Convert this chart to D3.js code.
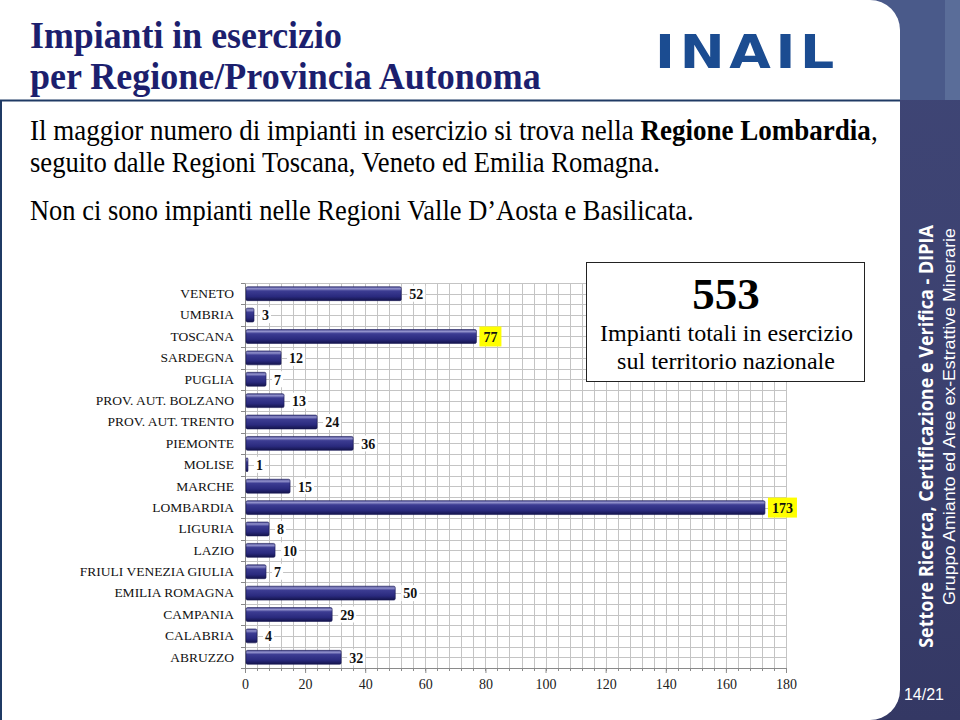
<!DOCTYPE html>
<html><head><meta charset="utf-8">
<script src="https://cdn.jsdelivr.net/npm/d3@7"></script>
<style>html,body{margin:0;padding:0;background:#fff;}svg{display:block;}</style>
</head><body>
<svg id="c" width="960" height="720"></svg>
<script>
const categories = ["VENETO","UMBRIA","TOSCANA","SARDEGNA","PUGLIA","PROV. AUT. BOLZANO","PROV. AUT. TRENTO","PIEMONTE","MOLISE","MARCHE","LOMBARDIA","LIGURIA","LAZIO","FRIULI VENEZIA GIULIA","EMILIA ROMAGNA","CAMPANIA","CALABRIA","ABRUZZO"];
const values = [52,3,77,12,7,13,24,36,1,15,173,8,10,7,50,29,4,32];
const highlighted = ["TOSCANA","LOMBARDIA"];
const xTicks = [0,20,40,60,80,100,120,140,160,180];
const total = 553;

const svg = d3.select("#c");
const defs = svg.append("defs");
const g1 = defs.append("linearGradient").attr("id","barG").attr("x1",0).attr("y1",0).attr("x2",0).attr("y2",1);
[["0%","#4a4a92"],["14%","#9292cc"],["30%","#3c3c92"],["70%","#2a2a7e"],["100%","#14144c"]].forEach(s=>g1.append("stop").attr("offset",s[0]).attr("stop-color",s[1]));
const g2 = defs.append("linearGradient").attr("id","panelG").attr("x1",0).attr("y1",0).attr("x2",0).attr("y2",1);
[["0%","#3f4676"],["50%","#3c4170"],["100%","#343864"]].forEach(s=>g2.append("stop").attr("offset",s[0]).attr("stop-color",s[1]));

// right panel
svg.append("rect").attr("x",0).attr("y",0).attr("width",960).attr("height",720).attr("fill","url(#panelG)");
svg.append("rect").attr("x",860).attr("y",0).attr("width",100).attr("height",100).attr("fill","#4a5a8a");
svg.append("rect").attr("x",945).attr("y",0).attr("width",15).attr("height",100).attr("fill","#5a6d99");
// white content
svg.append("rect").attr("x",-40).attr("y",0).attr("width",940).attr("height",720).attr("rx",30).attr("fill","#fff");
svg.append("line").attr("x1",0).attr("x2",900).attr("y1",100.5).attr("y2",100.5).attr("stroke","#1f3a64").attr("stroke-width",2);
svg.append("line").attr("x1",1).attr("x2",1).attr("y1",100).attr("y2",720).attr("stroke","#1f3a64").attr("stroke-width",2);

function fitText(sel, x, y, target){
  const w = sel.node().getComputedTextLength();
  sel.attr("transform",`translate(${x},${y}) scale(${target/w},1)`);
  return sel;
}
// Title
const tf = "'Liberation Serif','Times New Roman',serif";
fitText(svg.append("text").attr("font-family",tf).attr("font-weight","bold").attr("font-size",37).attr("fill","#1c1f6e").text("Impianti in esercizio"),30,48,312);
fitText(svg.append("text").attr("font-family",tf).attr("font-weight","bold").attr("font-size",37).attr("fill","#1c1f6e").text("per Regione/Provincia Autonoma"),30,89,511);

// Logo
fitText(svg.append("text").attr("font-family","'DejaVu Sans',sans-serif").attr("font-weight","bold").attr("font-size",46).attr("letter-spacing",4).attr("fill","#1b4c91").text("INAIL"),655,68,184);

// Body text
const b1 = svg.append("text").attr("font-family",tf).attr("font-size",29).attr("fill","#000");
b1.append("tspan").text("Il maggior numero di impianti in esercizio si trova nella ");
b1.append("tspan").attr("font-weight","bold").text("Regione Lombardia");
b1.append("tspan").text(",");
fitText(b1,30,140,848);
fitText(svg.append("text").attr("font-family",tf).attr("font-size",29).text("seguito dalle Regioni Toscana, Veneto ed Emilia Romagna."),30,172,630);
fitText(svg.append("text").attr("font-family",tf).attr("font-size",29).text("Non ci sono impianti nelle Regioni Valle D\u2019Aosta e Basilicata."),30,220,664);

// Vertical texts
function vText(txt, cx, cy, size, weight, family, target){
  const t = svg.append("text").attr("font-family",family).attr("font-weight",weight).attr("font-size",size).attr("fill","#fff").attr("text-anchor","middle").text(txt);
  const w = t.node().getComputedTextLength();
  t.attr("transform",`translate(${cx},${cy}) rotate(-90) scale(${target/w},1)`);
}
vText("Settore Ricerca, Certificazione e Verifica - DIPIA",933,436.5,20,"bold","'Open Sans',sans-serif",423);
vText("Gruppo Amianto ed Aree ex-Estrattive Minerarie",955,416.5,16,"normal","'Liberation Sans',Arial,sans-serif",377);
svg.append("text").attr("x",924).attr("y",700).attr("text-anchor","middle").attr("font-family","'Liberation Sans',Arial,sans-serif").attr("font-size",16).attr("fill","#fff").text("14/21");

// Chart
const x = d3.scaleLinear().domain([0,180]).range([245,786]);
const y = d3.scaleBand().domain(categories).range([283,668]).paddingInner(0.35).paddingOuter(0.175);
const step = y.step();
const grid = svg.append("g").attr("stroke","#c4c4c4").attr("stroke-width",1);
d3.range(4,181,4).forEach(v=>grid.append("line").attr("x1",Math.round(x(v))+0.5).attr("x2",Math.round(x(v))+0.5).attr("y1",283).attr("y2",668));
d3.range(0,categories.length*2).forEach(i=>{const yy=Math.round(283+i*step/2)+0.5; grid.append("line").attr("x1",245).attr("x2",786).attr("y1",yy).attr("y2",yy);});

// axes
const xAxis = d3.axisBottom(x).tickValues(xTicks).tickSize(5).tickPadding(6);
const xg = svg.append("g").attr("transform","translate(0,668)").call(xAxis);
xg.select(".domain").attr("stroke","#8a8a8a");
xg.selectAll(".tick line").attr("stroke","#8a8a8a");
xg.selectAll("text").attr("font-family",tf).attr("font-size",14).attr("fill","#222");
const minor = svg.append("g").attr("stroke","#8a8a8a");
d3.range(4,180,4).forEach(v=>minor.append("line").attr("x1",Math.round(x(v))+0.5).attr("x2",Math.round(x(v))+0.5).attr("y1",668).attr("y2",671));

const yAxis = d3.axisLeft(y).tickSize(0).tickPadding(11);
const yg = svg.append("g").attr("transform","translate(245,0)").call(yAxis);
yg.select(".domain").attr("stroke","#8a8a8a");
yg.selectAll("text").attr("font-family",tf).attr("font-size",13.5).attr("fill","#111");
d3.range(0,categories.length+1).forEach(i=>svg.append("line").attr("x1",241).attr("x2",245).attr("y1",Math.round(283+i*step)+0.5).attr("y2",Math.round(283+i*step)+0.5).attr("stroke","#8a8a8a"));

// bars
const data = categories.map((c,i)=>({c, v:values[i]}));
svg.append("g").selectAll("rect").data(data).join("rect")
  .attr("x",x(0)+1).attr("y",d=>y(d.c)).attr("width",d=>Math.max(2,x(d.v)-x(0)-1)).attr("height",y.bandwidth())
  .attr("rx",1.5).attr("fill","url(#barG)").attr("stroke","#1a1a55").attr("stroke-width",0.6);

// labels
const lg = svg.append("g");
data.forEach(d=>{
  const lx = x(d.v)+ (highlighted.includes(d.c)?7:8);
  const ly = y(d.c)+y.bandwidth()/2;
  const t = lg.append("text").attr("x",lx).attr("y",ly).attr("dy","0.38em").attr("font-family",tf).attr("font-weight","bold").attr("font-size",14).attr("fill","#111").text(d.v);
  if(highlighted.includes(d.c)){
    const bb = t.node().getBBox();
    lg.insert("rect","text").attr("x",bb.x-4).attr("y",ly-10).attr("width",bb.width+8).attr("height",20).attr("fill","#ffff00");
  } else {
    lg.insert("rect","text").attr("x",lx-2).attr("y",ly-8).attr("width",t.node().getComputedTextLength()+4).attr("height",16).attr("fill","#fff");
  }
});

// total box
const bx = svg.append("g");
bx.append("rect").attr("x",586.5).attr("y",262.5).attr("width",278).attr("height",119).attr("fill","#fff").attr("stroke","#222").attr("stroke-width",1);
bx.append("text").attr("x",726).attr("y",309).attr("text-anchor","middle").attr("font-family",tf).attr("font-weight","bold").attr("font-size",45).text(total);
const l1 = bx.append("text").attr("text-anchor","middle").attr("font-family",tf).attr("font-size",24).text("Impianti totali in esercizio");
fitText(l1,726.5,341,253);
const l2 = bx.append("text").attr("text-anchor","middle").attr("font-family",tf).attr("font-size",24).text("sul territorio nazionale");
fitText(l2,726,369,218);
</script>
</body></html>
